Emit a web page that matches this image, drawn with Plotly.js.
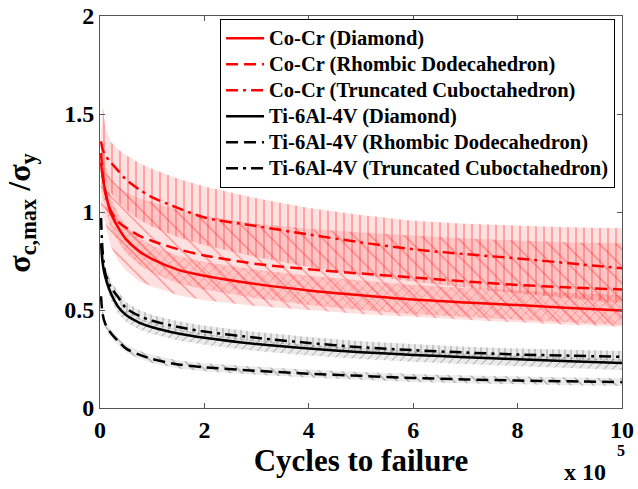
<!DOCTYPE html>
<html>
<head>
<meta charset="utf-8">
<script src="https://cdn.plot.ly/plotly-3.0.1.min.js"></script>
<style>html,body{margin:0;padding:0;background:#fff;}#chart{width:638px;height:489px;}</style>
</head>
<body>
<div id="chart"></div>
<script>
// Cycles to failure (x 10^5)
var cycles = [0.02, 0.05, 0.1, 0.2, 0.35, 0.5, 0.75, 1, 1.5, 2, 3, 4, 5, 6, 7, 8, 9, 10];

// Co-Cr curves (sigma_c,max / sigma_y)
var coCrDiamond   = [1.25, 1.18, 1.11, 1.0, 0.92, 0.86, 0.8, 0.76, 0.705, 0.675, 0.632, 0.6, 0.575, 0.553, 0.538, 0.525, 0.51, 0.498];
var coCrRhombic   = [1.3, 1.2, 1.1, 1.01, 0.95, 0.92, 0.88, 0.852, 0.81, 0.778, 0.735, 0.708, 0.686, 0.666, 0.646, 0.628, 0.615, 0.605];
var coCrTruncated = [1.36, 1.32, 1.29, 1.255, 1.21, 1.165, 1.115, 1.075, 1.02, 0.972, 0.928, 0.885, 0.845, 0.81, 0.785, 0.763, 0.738, 0.713];

// Ti-6Al-4V curves
var tiDiamond   = [0.84, 0.74, 0.67, 0.59, 0.515, 0.474, 0.436, 0.412, 0.38, 0.358, 0.326, 0.303, 0.285, 0.271, 0.259, 0.249, 0.238, 0.229];
var tiRhombic   = [0.57, 0.48, 0.43, 0.385, 0.34, 0.303, 0.272, 0.25, 0.222, 0.208, 0.19, 0.175, 0.164, 0.153, 0.146, 0.14, 0.136, 0.132];
var tiTruncated = [0.97, 0.8, 0.69, 0.62, 0.565, 0.51, 0.47, 0.445, 0.413, 0.39, 0.358, 0.332, 0.31, 0.295, 0.283, 0.273, 0.267, 0.261];

// Scatter bands (upper / lower)
var coCrDiamondUp   = [1.36, 1.28, 1.2, 1.08, 0.99, 0.93, 0.87, 0.83, 0.775, 0.745, 0.705, 0.675, 0.65, 0.628, 0.612, 0.6, 0.587, 0.575];
var coCrDiamondLo   = [1.14, 1.08, 1.02, 0.92, 0.85, 0.79, 0.73, 0.69, 0.635, 0.605, 0.56, 0.525, 0.5, 0.478, 0.463, 0.45, 0.436, 0.423];
var coCrRhombicUp   = [1.35, 1.3, 1.24, 1.17, 1.13, 1.1, 1.07, 1.05, 1.01, 0.98, 0.94, 0.915, 0.895, 0.88, 0.865, 0.855, 0.845, 0.84];
var coCrRhombicLo   = [1.0, 0.98, 0.95, 0.83, 0.75, 0.7, 0.645, 0.62, 0.575, 0.55, 0.52, 0.5, 0.48, 0.465, 0.45, 0.437, 0.425, 0.415];
var coCrTruncatedUp = [1.4, 1.55, 1.43, 1.36, 1.32, 1.29, 1.25, 1.22, 1.17, 1.13, 1.07, 1.02, 0.985, 0.955, 0.94, 0.93, 0.922, 0.917];
var coCrTruncatedLo = [1.25, 1.2, 1.16, 1.1, 1.05, 1.01, 0.96, 0.925, 0.87, 0.83, 0.77, 0.72, 0.68, 0.645, 0.615, 0.585, 0.56, 0.535];

var tiDiamondUp   = [0.86, 0.76, 0.69, 0.61, 0.535, 0.494, 0.456, 0.432, 0.4, 0.378, 0.346, 0.323, 0.305, 0.291, 0.279, 0.269, 0.258, 0.249];
var tiDiamondLo   = [0.805, 0.705, 0.635, 0.555, 0.48, 0.439, 0.401, 0.377, 0.345, 0.323, 0.291, 0.268, 0.25, 0.236, 0.224, 0.214, 0.203, 0.194];
var tiRhombicUp   = [0.59, 0.5, 0.45, 0.405, 0.36, 0.323, 0.292, 0.27, 0.242, 0.228, 0.21, 0.195, 0.184, 0.173, 0.166, 0.16, 0.156, 0.152];
var tiRhombicLo   = [0.55, 0.46, 0.41, 0.365, 0.32, 0.283, 0.252, 0.23, 0.202, 0.188, 0.17, 0.155, 0.144, 0.133, 0.126, 0.12, 0.116, 0.112];
var tiTruncatedUp = [1.0, 0.84, 0.725, 0.65, 0.595, 0.54, 0.5, 0.475, 0.443, 0.42, 0.388, 0.362, 0.34, 0.325, 0.313, 0.303, 0.297, 0.291];
var tiTruncatedLo = [0.94, 0.77, 0.665, 0.595, 0.54, 0.488, 0.45, 0.425, 0.393, 0.37, 0.338, 0.312, 0.29, 0.275, 0.263, 0.253, 0.247, 0.241];

var labels = ["Co-Cr (Diamond)", "Co-Cr (Rhombic Dodecahedron)", "Co-Cr (Truncated Cuboctahedron)",
              "Ti-6Al-4V (Diamond)", "Ti-6Al-4V (Rhombic Dodecahedron)", "Ti-6Al-4V (Truncated Cuboctahedron)"];
var xTitle = 'Cycles to failure';
var yTitle = 'σ<sub>c,max</sub> /σ<sub>y</sub>';
var xMultiplier = 'x 10';
var xExponent = '5';

var FONT = "Liberation Serif, Times New Roman, serif";

function band(up, lo, shape, fg, bg, size, sol) {
  var xr = cycles.slice().reverse();
  return {
    x: cycles.concat(xr),
    y: up.concat(lo.slice().reverse()),
    type: 'scatter', mode: 'lines', fill: 'toself',
    line: {width: 0, color: 'rgba(0,0,0,0)'},
    fillcolor: bg,
    fillpattern: {shape: shape, fgcolor: fg, bgcolor: bg, size: size, solidity: sol, fillmode: 'replace'},
    showlegend: false, hoverinfo: 'skip'
  };
}
function curve(y, name, color, dash) {
  return {x: cycles, y: y,
          name: '<span style="font-size:20.5px">' + name + '</span>',
          type: 'scatter', mode: 'lines',
          line: {color: color, width: 2.5, dash: dash, shape: 'spline', smoothing: 0.8}};
}

var redFg = 'rgba(255,40,40,0.55)', redBg = 'rgba(255,0,0,0.12)';
var blkFg = 'rgba(60,60,60,0.5)', blkBg = 'rgba(0,0,0,0.08)';

var data = [
  band(coCrRhombicUp, coCrRhombicLo, '\\', redFg, redBg, 12, 0.1),
  band(coCrTruncatedUp, coCrTruncatedLo, '|', redFg, redBg, 8, 0.15),
  band(coCrDiamondUp, coCrDiamondLo, 'x', redFg, redBg, 7, 0.15),
  band(tiRhombicUp, tiRhombicLo, '\\', blkFg, blkBg, 8, 0.12),
  band(tiDiamondUp, tiDiamondLo, '/', blkFg, blkBg, 6, 0.15),
  band(tiTruncatedUp, tiTruncatedLo, '|', blkFg, blkBg, 6, 0.15),
  curve(coCrDiamond, labels[0], '#ff0000', 'solid'),
  curve(coCrRhombic, labels[1], '#ff0000', '12px,6px'),
  curve(coCrTruncated, labels[2], '#ff0000', '12px,5px,3px,5px'),
  curve(tiDiamond, labels[3], '#000000', 'solid'),
  curve(tiRhombic, labels[4], '#000000', '12px,6px'),
  curve(tiTruncated, labels[5], '#000000', '12px,5px,3px,5px')
];

var axisCommon = {
  showline: true, mirror: 'ticks', linecolor: '#555', linewidth: 1,
  ticks: 'inside', ticklen: 5, tickcolor: '#555', showgrid: false, zeroline: false,
  tickfont: {family: FONT, size: 24, color: '#000', weight: 'bold'}
};

var layout = {
  width: 638, height: 489,
  margin: {l: 100, r: 16, t: 16, b: 81},
  paper_bgcolor: '#fff', plot_bgcolor: '#fff',
  xaxis: Object.assign({}, axisCommon, {
    range: [0, 10], tickvals: [0, 2, 4, 6, 8, 10], ticktext: ['0', '2', '4', '6', '8', '10'],
    title: {text: xTitle, font: {family: FONT, size: 31, color: '#000', weight: 'bold'}, standoff: 4}
  }),
  yaxis: Object.assign({}, axisCommon, {
    range: [0, 2], tickvals: [0, 0.5, 1, 1.5, 2], ticktext: ['0', '0.5', '1', '1.5', '2']
  }),
  legend: {
    x: 0.23, y: 0.992, xanchor: 'left', yanchor: 'top',
    bgcolor: '#fff', bordercolor: '#000', borderwidth: 1,
    font: {family: FONT, size: 17.7, color: '#000', weight: 'bold'},
    itemwidth: 38, tracegroupgap: 0
  },
  annotations: [
    {xref: 'paper', yref: 'paper', x: -0.151, y: 0.496, xanchor: 'center', yanchor: 'middle',
     textangle: -90, text: yTitle, showarrow: false,
     font: {family: FONT, size: 32, color: '#000', weight: 'bold'}},
    {xref: 'paper', yref: 'paper', x: 0.973, y: -0.162, xanchor: 'right', yanchor: 'middle',
     text: xMultiplier, showarrow: false,
     font: {family: FONT, size: 24, color: '#000', weight: 'bold'}},
    {xref: 'paper', yref: 'paper', x: 0.998, y: -0.108, xanchor: 'center', yanchor: 'middle',
     text: xExponent, showarrow: false,
     font: {family: FONT, size: 16, color: '#000', weight: 'bold'}}
  ],
  showlegend: true
};

Plotly.newPlot('chart', data, layout, {displayModeBar: false, staticPlot: true});
</script>
</body>
</html>
